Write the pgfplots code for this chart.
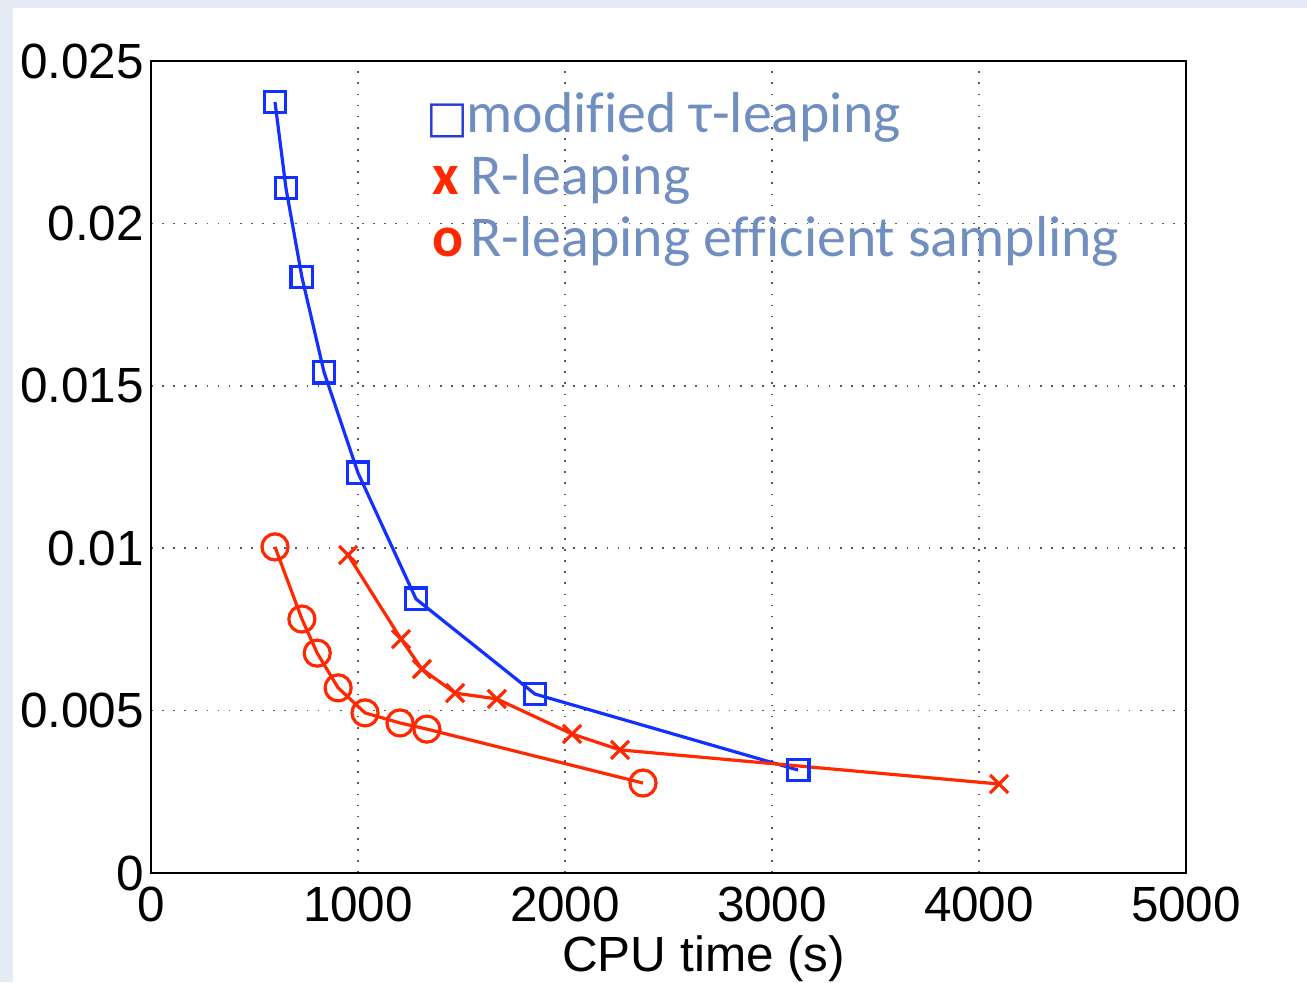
\documentclass[border=0pt]{standalone}
\usepackage{fontspec}
\setmainfont{Liberation Sans}
\newfontfamily\leg[Ligatures=NoCommon]{Carlito}
\newfontfamily\sym{DejaVu Sans}
\usepackage{pgfplots}
\pgfplotsset{compat=1.18}
\definecolor{bgblue}{RGB}{229,235,245}
\definecolor{mblue}{RGB}{18,48,255}
\definecolor{mred}{RGB}{255,40,0}
\definecolor{legtext}{RGB}{112,143,192}
\definecolor{legsq}{RGB}{40,60,210}
\def\u{0.36pt}

\begin{document}
\begin{tikzpicture}
% page and white panel (pixel units of the reference)
\fill[bgblue] ({-151*\u},{-109*\u}) rectangle ({1156*\u},{873*\u});
\fill[white] ({-138*\u},{-109*\u}) rectangle ({1156*\u},{865*\u});
\useasboundingbox ({-151*\u},{-109*\u}) rectangle ({1156*\u},{873*\u});

\begin{axis}[
  at={(0,0)}, anchor=south west,
  scale only axis,
  width=372.6pt, height=292.3pt,
  xmin=0, xmax=5000, ymin=0, ymax=0.025,
  xtick={0,1000,2000,3000,4000,5000},
  ytick={0,0.005,0.01,0.015,0.02,0.025},
  scaled y ticks=false, scaled x ticks=false,
  /pgf/number format/assume math mode=true,
  xticklabel style={/pgf/number format/1000 sep={}, yshift=-1.5pt},
  yticklabel style={/pgf/number format/fixed, /pgf/number format/precision=3, xshift=1pt},
  tick label style={font=\fontsize{17.8}{20}\selectfont},
  major tick length=0pt,
  grid=major,
  major grid style={black!65, line width=0.6pt, dash pattern=on 0.6pt off 3.4pt},
  axis line style={line width=0.7pt},
  xlabel={CPU time (s)},
  xlabel style={font=\fontsize{17.8}{20}\selectfont, at={(axis description cs:0.534,0)}, anchor=base, yshift=-35.6pt},
  clip=false,
]
\addplot[mblue, line width=1.15pt, mark=square, mark size=3.9pt,
  mark options={solid, line width=1.15pt}] coordinates {
  (599,0.02374) (652,0.02109) (729,0.01835) (836,0.01542)
  (1000,0.01232) (1280,0.00844) (1855,0.00551) (3126,0.00317)
};
\addplot[mred, line width=1.15pt, mark=x, mark size=4.6pt,
  mark options={solid, line width=1.15pt}] coordinates {
  (952,0.00979) (1208,0.00720) (1309,0.00628) (1469,0.00554)
  (1671,0.00536) (2034,0.00428) (2266,0.00379) (4097,0.00274)
};
\addplot[mred, line width=1.15pt, mark=o, mark size=4.7pt,
  mark options={solid, line width=1.15pt}] coordinates {
  (599,0.01004) (729,0.00782) (803,0.00677) (904,0.00570)
  (1034,0.00493) (1203,0.00462) (1333,0.00443) (2377,0.00277)
};
\end{axis}

% legend, set as text as in the reference
\node[anchor=base west, inner sep=0pt, text=legsq, font=\sym\fontsize{16}{18}\selectfont] at ({275*\u},{740*\u}) {□};
\node[anchor=base west, inner sep=0pt, text=legtext, font=\leg\fontsize{20.8}{22}\selectfont] at ({315*\u},{740*\u}) {modified τ-leaping};
\node[anchor=base west, inner sep=0pt, text=mred, font=\leg\bfseries\fontsize{20.8}{22}\selectfont] at ({281*\u},{678*\u}) {x};
\node[anchor=base west, inner sep=0pt, text=legtext, font=\leg\fontsize{20.8}{22}\selectfont] at ({319*\u},{678*\u}) {R-leaping};
\node[anchor=base west, inner sep=0pt, text=mred, font=\leg\bfseries\fontsize{20.8}{22}\selectfont] at ({281*\u},{616*\u}) {o};
\node[anchor=base west, inner sep=0pt, text=legtext, font=\leg\fontsize{20.8}{22}\selectfont] at ({319*\u},{616*\u}) {R-leaping efficient sampling};
\end{tikzpicture}
\end{document}
